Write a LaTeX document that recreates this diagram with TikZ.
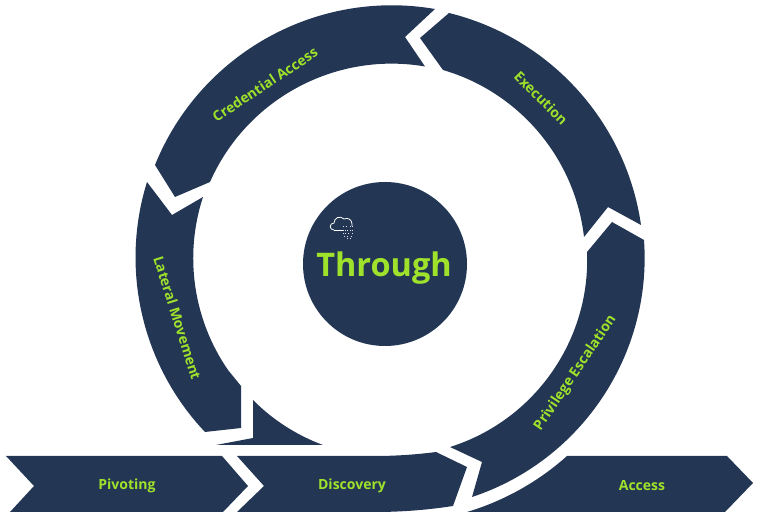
\documentclass[tikz,border=0pt]{standalone}
\usepackage{fontspec}
\setmainfont{Open Sans}
\definecolor{navy}{HTML}{233654}
\definecolor{lime}{HTML}{9FE22B}
\tikzset{
  x=1pt,y=1pt,
  band/.style={fill=navy,draw=none},
  bl/.style={bend left=#1,looseness={0.8514/(cos(#1/2)^2)}},
  br/.style={bend right=#1,looseness={0.8514/(cos(#1/2)^2)}},
  lab/.style={text=lime,font=\fontsize{14}{16}\selectfont\bfseries,inner sep=0pt},
}
\begin{document}
\begin{tikzpicture}
\useasboundingbox (0,0) rectangle (759,521);
% ring segments
\path[band] (435,512) -- (405,484) -- (425,454.5) to[br=38] (210,339) -- (175,324) -- (155,356) to[bl=38.9] (435,512) -- cycle;
\path[band] (449,508) -- (420,483) -- (443,451) to[bl=33.6] (584,284) -- (608,314) -- (641,296) to[br=34] (449,508) -- cycle;
\path[band] (587,269) -- (612,299) -- (644,281) to[bl=37.9] (472,24) -- (482,59) -- (450,74) to[br=37.5] (587,269) -- cycle;
\path[band] (147,339) -- (172,306) -- (203,324) to[br=26.4] (228,151) -- (241,135) -- (241,93) -- (205,89) to[bl=30.4] (147,339) -- cycle;
\path[band] (253,121) to[br=12.5] (323,76) -- (216,76) -- (253,83) -- cycle;
% chevrons
\path[band] (6,65) -- (34,35) -- (10,9) -- (223,9) -- (248,35) -- (222,65) -- cycle;
\path[band] (237,65) -- (264,35) -- (237,9) -- (375,9) to[br=4.4] (453,15) -- (467,54) -- (436,69) to[bl=3.7] (375,65) -- cycle;
\path[band] (467,9) to[br=12.6] (567,65) -- (727,65) -- (753,38) -- (725,9) -- cycle;
% centre
\node[circle,fill=navy,minimum size=164pt,inner sep=0pt] (hub) at (385,257) {};
% cloud icon
\draw[white,line width=0.8pt,line join=round] (334,291) .. controls (329,291) and (329,298) .. (334,298) .. controls (334,303) and (340,306) .. (344,302) .. controls (348,304) and (352,301) .. (352,297) -- (352,295);
\draw[white,line width=0.8pt] (334,291) -- (343,291);
\foreach \dx/\dy in {343/294,346/294,350/294,352/294,343/290,345/290,347/290,350/290,352/290,343/287,345/287,348/287,352/287,344/284,347/284,351/284,347/282,350/282}
  \fill[white!85!navy] (\dx,\dy) rectangle ++(1.3,1.3);
\node[text=lime,font=\fontsize{32.5}{40}\selectfont\bfseries,inner sep=0pt] (through) at (384,252.5) {Through};
% labels
\node[lab,rotate=33.4] (cred) at (265,436.5) {Credential Access};
\node[lab,rotate=-45] (exec) at (541,423) {Execution};
\node[lab,rotate=56] (priv) at (575.5,148) {Privilege Escalation};
\node[lab,rotate=-72.5] (lat) at (177.5,203) {Lateral Movement};
\node[lab] (piv) at (127,35.5) {Pivoting};
\node[lab] (disc) at (352,35.5) {Discovery};
\node[lab] (acc) at (642,35.5) {Access};
\end{tikzpicture}
\end{document}
